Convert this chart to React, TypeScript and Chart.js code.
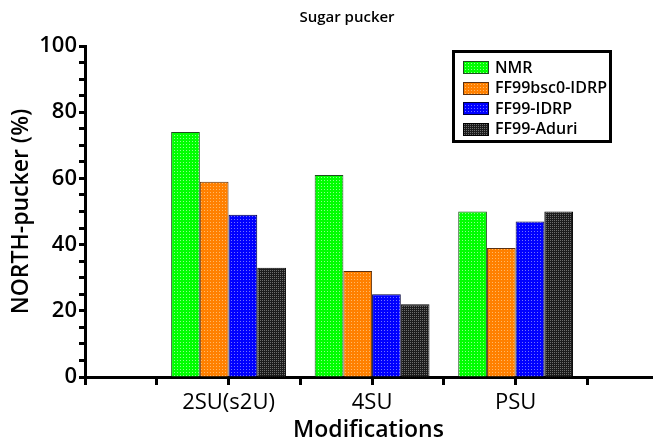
import React, { useEffect, useRef } from 'react';
import { Chart, registerables } from 'chart.js';

Chart.register(...registerables);

const chartTitle = 'Sugar pucker';
const xAxisTitle = 'Modifications';
const yAxisTitle = 'NORTH-pucker (%)';
const categories = ['2SU(s2U)', '4SU', 'PSU'];
const seriesNames = ['NMR', 'FF99bsc0-IDRP', 'FF99-IDRP', 'FF99-Aduri'];
const nmr = [74, 61, 50];
const ff99bsc0Idrp = [59, 32, 39];
const ff99Idrp = [49, 25, 47];
const ff99Aduri = [33, 22, 50];
const yMajorTicks = [0, 20, 40, 60, 80, 100];

const baseColors = ['#00ff00', '#ff8000', '#0000ff', '#1c1c1c'];
const dotColors = ['#8cff8c', '#ffb866', '#7070ff', '#6e6e6e'];
const borderColors = ['#1f4f1f', '#5a3010', '#00003c', '#000000'];

const FONT = '"Open Sans", "DejaVu Sans", sans-serif';

export default function App() {
  const canvasRef = useRef<HTMLCanvasElement | null>(null);

  useEffect(() => {
    const canvas = canvasRef.current;
    if (!canvas) return;
    const ctx = canvas.getContext('2d')!;

    const makePattern = (base: string, dot: string, size: number) => {
      const tile = document.createElement('canvas');
      tile.width = size;
      tile.height = size;
      const t = tile.getContext('2d')!;
      t.fillStyle = base;
      t.fillRect(0, 0, size, size);
      t.fillStyle = dot;
      t.fillRect(0, 0, 1, 1);
      return ctx.createPattern(tile, 'repeat') as CanvasPattern;
    };

    const seriesValues = [nmr, ff99bsc0Idrp, ff99Idrp, ff99Aduri];
    const datasets = seriesValues.map((vals, i) => ({
      label: seriesNames[i],
      data: vals.map((v, j) => ({ x: (j + 1) * 2, y: v })),
      backgroundColor: makePattern(baseColors[i], dotColors[i], i === 3 ? 2 : 3),
      borderColor: borderColors[i],
      borderWidth: 1,
      categoryPercentage: 1.6,
      barPercentage: 1.0,
    }));

    const overlay = {
      id: 'overlay',
      afterDraw(chart: any) {
        const c = chart.ctx as CanvasRenderingContext2D;
        c.save();
        c.fillStyle = '#000';
        c.font = `600 15px ${FONT}`;
        c.textAlign = 'center';
        c.textBaseline = 'middle';
        c.fillText(chartTitle, 347, 18);

        const lx = 452, ly = 50, lw = 160, lh = 93;
        c.lineWidth = 3;
        c.strokeStyle = '#000';
        c.strokeRect(lx + 1.5, ly + 1.5, lw - 3, lh - 3);
        c.font = `600 16px ${FONT}`;
        c.textAlign = 'left';
        chart.data.datasets.forEach((ds: any, i: number) => {
          const cy = 67 + i * 20.5;
          c.fillStyle = ds.backgroundColor;
          c.fillRect(463, Math.round(cy - 6), 26, 13);
          c.strokeStyle = ds.borderColor;
          c.lineWidth = 1;
          c.strokeRect(463.5, Math.round(cy - 6) + 0.5, 25, 12);
          c.fillStyle = '#000';
          c.fillText(ds.label, 495, cy + 1);
        });
        c.restore();
      },
    };

    const chart = new Chart(canvas, {
      type: 'bar',
      data: { datasets },
      options: {
        animation: false,
        responsive: false,
        layout: { padding: { top: 46, right: 3, left: 0, bottom: 0 } },
        plugins: {
          legend: { display: false },
          title: { display: false },
          tooltip: { enabled: false },
        },
        scales: {
          x: {
            type: 'linear',
            min: 0,
            max: 7.9,
            offset: false,
            afterFit: (s: any) => { s.height = 63; },
            border: { display: true, color: '#000', width: 3 },
            grid: {
              offset: false,
              drawOnChartArea: false,
              drawTicks: true,
              tickLength: 8,
              tickWidth: 3,
              tickColor: '#000',
            },
            ticks: {
              stepSize: 1,
              autoSkip: false,
              includeBounds: false,
              maxRotation: 0,
              padding: 5,
              color: '#000',
              font: { family: FONT, size: 22 },
              callback: (v: any) => {
                const n = Number(v);
                if (n > 0 && n % 2 === 0 && categories[n / 2 - 1]) return categories[n / 2 - 1];
                return '';
              },
            },
            title: {
              display: true,
              text: xAxisTitle,
              color: '#000',
              font: { family: FONT, size: 23, weight: '600', lineHeight: 1.1 },
              padding: { top: 0, bottom: -3 },
            },
          },
          y: {
            min: 0,
            max: 100,
            afterFit: (s: any) => { s.width = 85; },
            border: { display: true, color: '#000', width: 3 },
            grid: {
              drawOnChartArea: false,
              drawTicks: true,
              tickLength: 6,
              tickWidth: 3,
              tickColor: '#000',
            },
            ticks: {
              stepSize: 5,
              autoSkip: false,
              padding: 2,
              color: '#000',
              font: { family: FONT, size: 22, weight: '600' },
              callback: (v: any) => (yMajorTicks.includes(Number(v)) ? String(v) : ''),
            },
            title: {
              display: true,
              text: yAxisTitle,
              color: '#000',
              font: { family: FONT, size: 23, weight: '600' },
              padding: { top: 8, bottom: 0 },
            },
          },
        },
      },
      plugins: [overlay],
    } as any);

    return () => chart.destroy();
  }, []);

  return (
    <div style={{ position: 'absolute', left: 0, top: 0, width: 655, height: 440, background: '#fff' }}>
      <canvas ref={canvasRef} width={655} height={440} style={{ width: 655, height: 440, display: 'block' }} />
    </div>
  );
}
